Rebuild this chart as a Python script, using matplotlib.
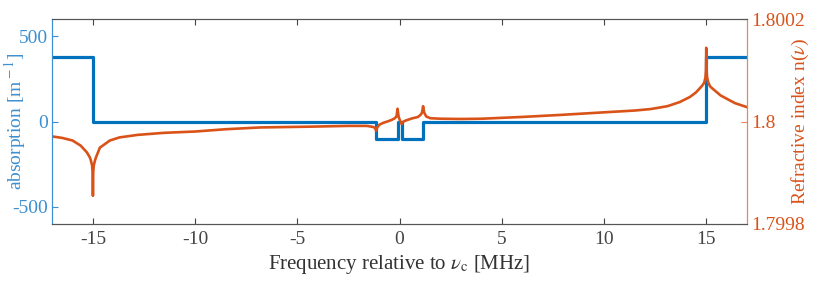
import matplotlib
matplotlib.use("Agg")
import matplotlib.pyplot as plt
import numpy as np

plt.rcParams['font.family'] = ['Liberation Serif', 'DejaVu Serif']
plt.rcParams['mathtext.fontset'] = 'stix'
plt.rcParams['axes.unicode_minus'] = False

# absorption step profile (MHz, 1/m)
abs_f = [-17, -15, -15, -1.15, -1.15, -0.1, -0.1, 0.1, 0.1, 1.15, 1.15, 15, 15, 17]
abs_val = [380, 380, 0, 0, -100, -100, 0, 0, -100, -100, 0, 0, 380, 380]

# refractive index (deviation from 1.8, in 1e-6)
n_f = [-17.0, -16.5, -16.0, -15.6, -15.3, -15.15, -15.1, -15.04, -15.015, -15.0,
       -14.985, -14.96, -14.9, -14.85, -14.66, -14.17, -13.7, -12.8, -11.5, -10.0,
       -8.5, -6.8, -4.4, -2.5, -1.6, -1.3, -1.2, -1.15, -1.1, -1.0,
       -0.8, -0.6, -0.4, -0.25, -0.15, -0.1, -0.05, 0.0, 0.05, 0.1,
       0.15, 0.3, 0.6, 0.9, 1.05, 1.1, 1.15, 1.2, 1.3, 1.5,
       2.0, 3.0, 4.0, 6.0, 7.9, 10.0, 11.5, 12.3, 13.1, 13.7,
       14.2, 14.5, 14.8, 14.9, 14.96, 14.985, 15.0, 15.015, 15.04, 15.1,
       15.2, 15.7, 16.4, 17.0]
n_dev = [-29, -32, -37, -47, -60, -70, -76, -86, -100, -145,
         -100, -86, -76, -70, -51, -37, -31, -26, -22, -19.5,
         -15, -11.5, -10, -8.5, -8.5, -10.5, -12.5, -18, -12, -6.5,
         -2.5, 0, 3, 6, 10, 25, 10, 4, -1, -5,
         -1, 2, 6, 9, 14, 18, 30, 18, 10, 6.5,
         5.5, 5, 5.5, 9, 13, 18, 21.5, 24.5, 30, 38,
         48, 57, 70, 76, 86, 100, 144, 100, 86, 76,
         68, 51, 36, 28]
n_val = 1.8 + np.array(n_dev) * 1e-6

blue = '#0072BD'
orange = '#D95319'
blue_ax = '#3C8FD0'
orange_ax = '#E8875A'

fig = plt.figure(figsize=(8.13, 2.99), dpi=100)
ax = fig.add_axes([0.064, 0.251, 0.855, 0.685])
ax2 = ax.twinx()

ax.plot(abs_f, abs_val, color=blue, lw=2.3)
ax2.plot(n_f, n_val, color=orange, lw=1.9)

ax.set_xlim(-17, 17)
ax.set_ylim(-600, 600)
ax.set_xticks([-15, -10, -5, 0, 5, 10, 15])
ax.set_yticks([-500, 0, 500])
ax2.set_ylim(1.7998, 1.8002)
ax2.set_yticks([1.7998, 1.8, 1.8002])
ax2.set_yticklabels(['1.7998', '1.8', '1.8002'])

ax.tick_params(axis='x', direction='in', top=True, length=4, colors='#444444', labelsize=14, pad=5)
ax.tick_params(axis='y', direction='in', length=4, colors=blue_ax, labelsize=14, pad=3)
ax2.tick_params(axis='y', direction='in', length=4, colors=orange_ax, labelsize=14, pad=3)
for lab in ax2.get_yticklabels():
    lab.set_color(orange)

for a in (ax, ax2):
    a.spines['top'].set_color('#555555')
    a.spines['bottom'].set_color('#555555')
    a.spines['left'].set_color(blue_ax)
    a.spines['right'].set_color(orange_ax)

ax.set_xlabel(r'Frequency relative to $\nu_{\rm c}$ [MHz]', fontsize=15, color='#333333')
ax.set_ylabel(r'absorption [m$^{\rm -1}$]', fontsize=14, color=blue_ax)
ax.yaxis.set_label_coords(-0.035, 0.5)
ax2.set_ylabel(r'Refractive index n($\nu$)', fontsize=14, color=orange)
ax2.yaxis.set_label_coords(1.061, 0.5)

fig.savefig('out.png', dpi=100)
